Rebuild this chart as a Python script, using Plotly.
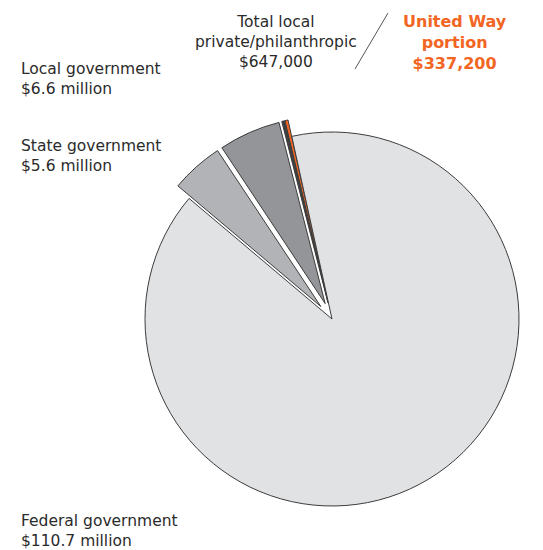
import plotly.graph_objects as go

# Funding sources (dollars), in drawing order counter-clockwise from the top
sources = ["United Way portion", "Other local private/philanthropic",
           "Local government", "State government", "Federal government"]
amounts = [337_200, 309_800, 6_600_000, 5_600_000, 110_700_000]
pulls = [0.09, 0.09, 0.09, 0.09, 0.0]
colors = ["#f26522", "#3f3f40", "#939598", "#b1b3b6", "#e1e2e4"]

W, H = 543, 550
cx, cy, R = 332, 319, 187          # pie centre and radius in pixels
half = R * (1 + max(pulls))

fig = go.Figure(go.Pie(
    labels=sources,
    values=amounts,
    sort=False,
    direction="counterclockwise",
    rotation=-13.4,
    pull=pulls,
    textinfo="none",
    hoverinfo="label+value",
    marker=dict(colors=colors, line=dict(color="#3c3c3c", width=1)),
    domain=dict(x=[(cx - half) / W, (cx + half) / W],
                y=[(H - cy - half) / H, (H - cy + half) / H]),
    showlegend=False,
))

FONT = "DejaVu Sans"
TXT = "#2b2b2b"
ORANGE = "#f26522"


def px(x, y):
    return x / W, 1 - y / H


labels = [
    # text, x, y (px), anchor, align, colour, bold, size
    ("Total local<br>private/philanthropic<br>$647,000", 276, 42, "center", "center", TXT, False, 15.5),
    ("United Way<br>portion<br>$337,200", 455, 42, "center", "center", ORANGE, True, 16),
    ("Local government<br>$6.6 million", 19, 79, "left", "left", TXT, False, 15.5),
    ("State government<br>$5.6 million", 19, 156, "left", "left", TXT, False, 15.5),
    ("Federal government<br>$110.7 million", 19, 531, "left", "left", TXT, False, 15.5),
]

annotations = []
for text, x, y, xa, al, col, bold, size in labels:
    ax, ay = px(x, y)
    annotations.append(dict(
        text=f"<b>{text}</b>" if bold else text,
        x=ax, y=ay, xref="paper", yref="paper",
        xanchor=xa, yanchor="middle", align=al, showarrow=False,
        font=dict(family=FONT, size=size, color=col),
    ))

x0, y0 = px(355, 69)
x1, y1 = px(388, 13)
shapes = [dict(type="line", xref="paper", yref="paper",
               x0=x0, y0=y0, x1=x1, y1=y1,
               line=dict(color="#555555", width=1))]

fig.update_layout(
    width=W, height=H,
    margin=dict(l=0, r=0, t=0, b=0),
    paper_bgcolor="white", plot_bgcolor="white",
    annotations=annotations,
    shapes=shapes,
)

fig.write_html("out.html")
